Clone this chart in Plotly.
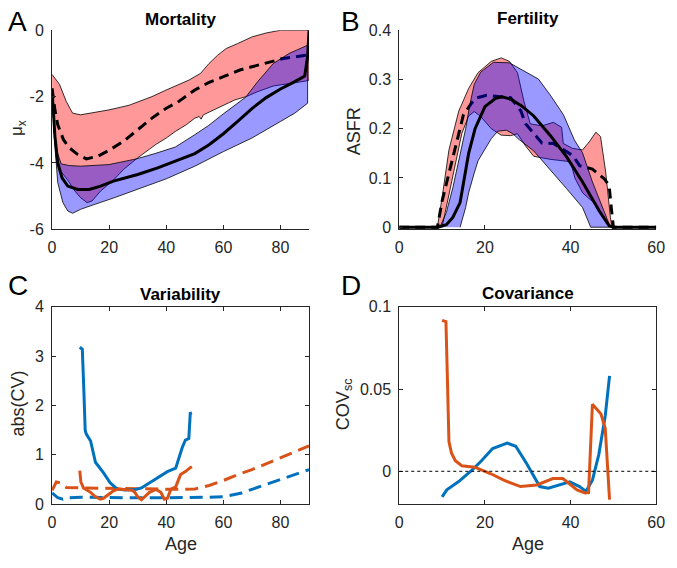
import plotly.graph_objects as go

# ---------------- Panel A: Mortality ----------------
mort_red_up_x = [0, 1.5, 2.6, 5, 7.2, 10, 13, 20, 27, 35, 40, 44, 48, 52, 55, 58, 61, 65, 70, 75, 80, 90]
mort_red_up_y = [-1.33, -1.5, -1.63, -2.15, -2.5, -2.55, -2.5, -2.4, -2.26, -2.0, -1.8, -1.65, -1.5, -1.3, -1.0, -0.75, -0.55, -0.4, -0.2, -0.08, 0, 0]
mort_red_lo_x = [0, 0.7, 1.5, 3, 5.5, 8, 10, 12.3, 14, 17, 21.5, 25, 29.5, 33, 36.4, 40, 43.2, 47, 50, 51.5, 52.2, 53, 56, 60, 64, 68, 72, 77.5, 83, 88.9, 90]
mort_red_lo_y = [-1.9, -3.0, -3.8, -4.25, -4.52, -4.85, -5.05, -5.2, -5.15, -4.85, -4.52, -4.2, -3.88, -3.65, -3.44, -3.25, -3.05, -2.85, -2.65, -2.6, -2.68, -2.55, -2.42, -2.26, -2.1, -2.0, -1.85, -1.68, -1.6, -1.53, -1.5]
mort_blue_up_x = [0, 0.7, 1.5, 3.2, 6, 10, 20, 29.5, 36, 40, 43.2, 50, 54.7, 60, 64, 67.8, 72, 77.5, 83, 89.5]
mort_blue_up_y = [-1.8, -3.0, -3.6, -4.03, -4.08, -4.1, -4.05, -3.88, -3.72, -3.62, -3.52, -3.15, -2.88, -2.52, -2.25, -2.02, -1.55, -1.0, -0.7, -0.45]
mort_blue_lo_x = [0, 1, 2, 3.8, 5.5, 7.2, 10, 15, 21.5, 30, 40, 50, 60, 70, 80, 85, 89.5]
mort_blue_lo_y = [-1.8, -3.5, -4.6, -5.2, -5.45, -5.52, -5.4, -5.25, -5.06, -4.8, -4.48, -4.1, -3.66, -3.25, -2.75, -2.5, -2.2]
mort_dash_x = [0, 1, 2, 4, 6, 9, 12, 16, 20, 25, 30, 35, 40, 44, 50, 55, 60, 66, 70, 75, 81, 85, 89]
mort_dash_y = [-1.75, -2.4, -2.85, -3.3, -3.54, -3.75, -3.88, -3.8, -3.62, -3.35, -3.0, -2.65, -2.35, -2.17, -1.8, -1.57, -1.4, -1.19, -1.1, -0.98, -0.85, -0.8, -0.75]
mort_solid_x = [0, 1, 2, 3.5, 5.5, 9, 13, 17, 21.5, 30, 37, 40, 45, 50, 55, 60, 65, 70, 75, 80, 85, 88.5, 89.5, 90]
mort_solid_y = [-1.8, -3.2, -4.0, -4.45, -4.7, -4.8, -4.8, -4.7, -4.55, -4.35, -4.15, -4.05, -3.9, -3.72, -3.45, -3.12, -2.75, -2.36, -2.03, -1.77, -1.55, -1.38, -0.8, 0]

# ---------------- Panel B: Fertility ----------------
fert_red_up_x = [8.9, 10, 11.6, 13.9, 16.2, 18.4, 21.5, 23.8, 25.7, 27.6, 29.1, 30.6, 33.3, 36, 37.9, 38.3, 40.5, 42.8, 44.5, 45.9, 47, 48.2, 49.3, 49.7]
fert_red_up_y = [0, 0.06, 0.157, 0.236, 0.282, 0.314, 0.337, 0.344, 0.337, 0.314, 0.256, 0.21, 0.206, 0.213, 0.203, 0.17, 0.16, 0.157, 0.175, 0.193, 0.184, 0.112, 0.02, 0]
fert_red_lo_x = [10, 12.7, 14.6, 16.2, 17.5, 19, 21.5, 23.8, 26, 27.6, 29.5, 31.4, 35.2, 40, 41, 42.8, 45.9, 48.2, 49.5]
fert_red_lo_y = [0, 0.11, 0.19, 0.226, 0.235, 0.225, 0.2, 0.187, 0.186, 0.19, 0.165, 0.144, 0.138, 0.133, 0.1, 0.07, 0.046, 0.014, 0]
fert_blue_up_x = [9.5, 11, 12.5, 14, 15.5, 16.5, 17.5, 19, 20.7, 22, 25.7, 29.9, 32.5, 35.2, 38.3, 40.9, 42.8, 45.1, 48.2, 49.3]
fert_blue_up_y = [0, 0.03, 0.08, 0.14, 0.2, 0.25, 0.29, 0.315, 0.327, 0.335, 0.334, 0.314, 0.301, 0.269, 0.229, 0.177, 0.151, 0.092, 0.027, 0]
fert_blue_lo_x = [14.2, 15.5, 16.2, 17.5, 18.4, 20, 21.5, 23, 25, 26.5, 28, 31.4, 35.2, 39, 42.8, 44.7]
fert_blue_lo_y = [0, 0.04, 0.07, 0.11, 0.135, 0.158, 0.18, 0.195, 0.197, 0.19, 0.178, 0.155, 0.118, 0.079, 0.04, 0]
fert_dash_x = [0, 8.9, 10, 12.4, 15, 17.7, 20.4, 26, 28.4, 29.5, 31.4, 33.3, 36, 38.3, 40.6, 42.1, 45.1, 47.8, 49, 49.5, 50, 60]
fert_dash_y = [0, 0, 0.053, 0.138, 0.229, 0.262, 0.268, 0.263, 0.236, 0.21, 0.19, 0.171, 0.17, 0.157, 0.145, 0.125, 0.118, 0.099, 0.085, 0.04, 0, 0]
fert_solid_x = [0, 9, 11, 12.5, 14.2, 15, 16.2, 17.7, 20, 22.5, 24, 26, 28.5, 31.4, 35.2, 39, 42.8, 46.7, 49, 50, 60]
fert_solid_y = [0, 0, 0.005, 0.02, 0.05, 0.09, 0.15, 0.2, 0.245, 0.262, 0.265, 0.26, 0.247, 0.226, 0.187, 0.144, 0.092, 0.033, 0.003, 0, 0]

# ---------------- Panel C: Variability ----------------
var_blue_solid_x = [9.7, 10.6, 11.2, 11.6, 12, 13.5, 15.2, 16.4, 18.1, 20.4, 22.7, 25.5, 29.5, 31.3, 35.3, 40.4, 43.3, 45.6, 46.7, 47.9, 48.4, 49]
var_blue_solid_y = [3.18, 3.14, 2.2, 1.5, 1.42, 1.28, 0.85, 0.76, 0.63, 0.43, 0.31, 0.29, 0.3, 0.33, 0.48, 0.66, 0.73, 1.15, 1.3, 1.33, 1.84, 1.85]
var_red_solid_x = [9.7, 10.1, 11, 12, 13.5, 15, 16.9, 18, 19.8, 21.5, 23.2, 26.1, 28, 29, 30, 31.3, 32.5, 34.1, 36.4, 38.1, 39.3, 40.4, 41.6, 43.3, 45, 46.7, 48.4, 49]
var_red_solid_y = [0.68, 0.45, 0.33, 0.3, 0.24, 0.16, 0.1, 0.12, 0.2, 0.27, 0.31, 0.3, 0.28, 0.24, 0.15, 0.09, 0.15, 0.24, 0.3, 0.24, 0.1, 0.12, 0.3, 0.35, 0.6, 0.66, 0.74, 0.76]
var_blue_dash_x = [0, 1, 2, 3.8, 5, 10, 20, 30, 40, 50, 55, 60, 63, 66, 70, 75, 80, 85, 90]
var_blue_dash_y = [0.23, 0.18, 0.13, 0.1, 0.13, 0.14, 0.13, 0.13, 0.13, 0.13, 0.14, 0.15, 0.18, 0.22, 0.3, 0.4, 0.5, 0.6, 0.7]
var_red_dash_x = [0, 1.5, 3, 5, 10, 20, 30, 40, 45, 50, 55, 60, 65, 70, 75, 80, 85, 90]
var_red_dash_y = [0.28, 0.45, 0.43, 0.34, 0.33, 0.32, 0.31, 0.3, 0.3, 0.31, 0.38, 0.48, 0.6, 0.7, 0.82, 0.95, 1.07, 1.18]

# ---------------- Panel D: Covariance ----------------
cov_red_x = [10, 10.9, 11.3, 11.6, 12.2, 13.1, 14.6, 17.6, 21.4, 24.4, 28.3, 32.1, 35.9, 38.2, 41.5, 43.4, 44.2, 45.1, 47.1, 48.1, 49.1]
cov_red_y = [0.0917, 0.091, 0.05, 0.018, 0.011, 0.0064, 0.0034, 0.0025, -0.0015, -0.0054, -0.0093, -0.0083, -0.0044, -0.0044, -0.0113, -0.0132, -0.013, 0.0407, 0.0348, 0.026, -0.0172]
cov_blue_x = [10, 11.1, 13.8, 16.9, 19.2, 21.8, 25.2, 27.2, 29.8, 32.8, 34.8, 37.5, 39.8, 42.1, 43.6, 45.1, 46.6, 48.1, 49.1]
cov_blue_y = [-0.0156, -0.0113, -0.0064, 0.0005, 0.0064, 0.0138, 0.0172, 0.0152, 0.0044, -0.0093, -0.0103, -0.0083, -0.0064, -0.0093, -0.0122, -0.0054, 0.0103, 0.0338, 0.058]

RED_FILL = "rgba(255,0,0,0.4)"
BLUE_FILL = "rgba(0,0,255,0.4)"
MBLUE = "#0072BD"
MORANGE = "#D95319"
AX = "#262626"
FONT = "Liberation Sans, Arial, sans-serif"

fig = go.Figure()


def band(xu, yu, xl, yl, color, xa, ya):
    fig.add_trace(go.Scatter(
        x=list(xu) + list(xl)[::-1], y=list(yu) + list(yl)[::-1],
        fill="toself", fillcolor=color, mode="lines",
        line=dict(color="black", width=0.8), xaxis=xa, yaxis=ya,
        showlegend=False, hoverinfo="skip"))


def line(x, y, color, width, dash, xa, ya):
    fig.add_trace(go.Scatter(
        x=x, y=y, mode="lines", line=dict(color=color, width=width, dash=dash),
        xaxis=xa, yaxis=ya, showlegend=False))


# A
band(mort_red_up_x, mort_red_up_y, mort_red_lo_x, mort_red_lo_y, RED_FILL, "x", "y")
line(mort_dash_x, mort_dash_y, "black", 3, "10px,6px", "x", "y")
band(mort_blue_up_x, mort_blue_up_y, mort_blue_lo_x, mort_blue_lo_y, BLUE_FILL, "x", "y")
line(mort_solid_x, mort_solid_y, "black", 3, "solid", "x", "y")

# B
band(fert_red_up_x, fert_red_up_y, fert_red_lo_x, fert_red_lo_y, RED_FILL, "x2", "y2")
line(fert_dash_x, fert_dash_y, "black", 3, "10px,6px", "x2", "y2")
band(fert_blue_up_x, fert_blue_up_y, fert_blue_lo_x, fert_blue_lo_y, BLUE_FILL, "x2", "y2")
line(fert_solid_x, fert_solid_y, "black", 3, "solid", "x2", "y2")

# C
line(var_blue_dash_x, var_blue_dash_y, MBLUE, 3, "13px,7px", "x3", "y3")
line(var_red_dash_x, var_red_dash_y, MORANGE, 3, "13px,7px", "x3", "y3")
line(var_blue_solid_x, var_blue_solid_y, MBLUE, 3, "solid", "x3", "y3")
line(var_red_solid_x, var_red_solid_y, MORANGE, 3, "solid", "x3", "y3")

# D
line(cov_blue_x, cov_blue_y, MBLUE, 3, "solid", "x4", "y4")
line(cov_red_x, cov_red_y, MORANGE, 3, "solid", "x4", "y4")

W, H = 677, 568
XL = [49 / W, 311 / W]
XR = [403 / W, 665 / W]
YT = [1 - 228 / H, 1 - 23 / H]
YB = [1 - 511.5 / H, 1 - 308 / H]

common = dict(showgrid=False, zeroline=False, showline=True, linecolor=AX, linewidth=1,
              ticks="inside", ticklen=4, tickcolor=AX, tickwidth=1, ticklabelstandoff=4,
              tickfont=dict(family=FONT, size=16, color=AX))

fig.update_layout(
    width=W, height=H, margin=dict(l=0, r=0, t=0, b=0),
    paper_bgcolor="white", plot_bgcolor="white",
    xaxis=dict(domain=XL, range=[0, 90], anchor="y", tickvals=[0, 20, 40, 60, 80], **common),
    yaxis=dict(domain=YT, range=[-6, 0], anchor="x", tickvals=[-6, -4, -2, 0],
               ticktext=["-6", "-4", "-2", "0"], **common),
    xaxis2=dict(domain=XR, range=[0, 60], anchor="y2", tickvals=[0, 20, 40, 60], **common),
    yaxis2=dict(domain=YT, range=[-0.004, 0.4], anchor="x2", tickvals=[0, 0.1, 0.2, 0.3, 0.4],
                ticktext=["0", "0.1", "0.2", "0.3", "0.4"], **common),
    xaxis3=dict(domain=XL, range=[0, 90], anchor="y3", tickvals=[0, 20, 40, 60, 80], mirror="ticks", **common),
    yaxis3=dict(domain=YB, range=[0, 4], anchor="x3", tickvals=[0, 1, 2, 3, 4], mirror="ticks", **common),
    xaxis4=dict(domain=XR, range=[0, 60], anchor="y4", tickvals=[0, 20, 40, 60], mirror="ticks", **common),
    yaxis4=dict(domain=YB, range=[-0.02, 0.1], anchor="x4", tickvals=[0, 0.05, 0.1],
                ticktext=["0", "0.05", "0.1"], mirror="ticks", **common),
)

fig.add_shape(type="line", xref="x4", yref="y4", x0=0, x1=60, y0=0, y1=0,
              line=dict(color="black", width=1, dash="dot"))


def ann(text, x, y, size, bold=False, angle=0, color="black"):
    fig.add_annotation(text=("<b>%s</b>" % text) if bold else text, x=x / W, y=1 - y / H,
                       xref="paper", yref="paper", showarrow=False, textangle=angle,
                       font=dict(family=FONT, size=size, color=color),
                       xanchor="center", yanchor="middle")


ann("Mortality", 180, 12, 17, bold=True)
ann("Fertility", 534, 11, 17, bold=True)
ann("Variability", 180, 295, 17, bold=True)
ann("Covariance", 534, 294, 17, bold=True)
ann("A", 14, 14, 28)
ann("B", 353, 14, 28)
ann("C", 14, 286, 28)
ann("D", 354, 286, 28)
ann("μ<sub>x</sub>", 15, 124, 17, angle=-90, color=AX)
ann("ASFR", 357, 127, 18, angle=-90, color=AX)
ann("abs(CV)", 14, 408, 18, angle=-90, color=AX)
ann("COV<sub>sc</sub>", 347, 408, 18, angle=-90, color=AX)
ann("Age", 180, 553, 18, color=AX)
ann("Age", 534, 553, 18, color=AX)

fig.write_html("out.html", config={"displayModeBar": False},
               post_script="document.body.style.margin='0';document.body.style.overflow='hidden';")
